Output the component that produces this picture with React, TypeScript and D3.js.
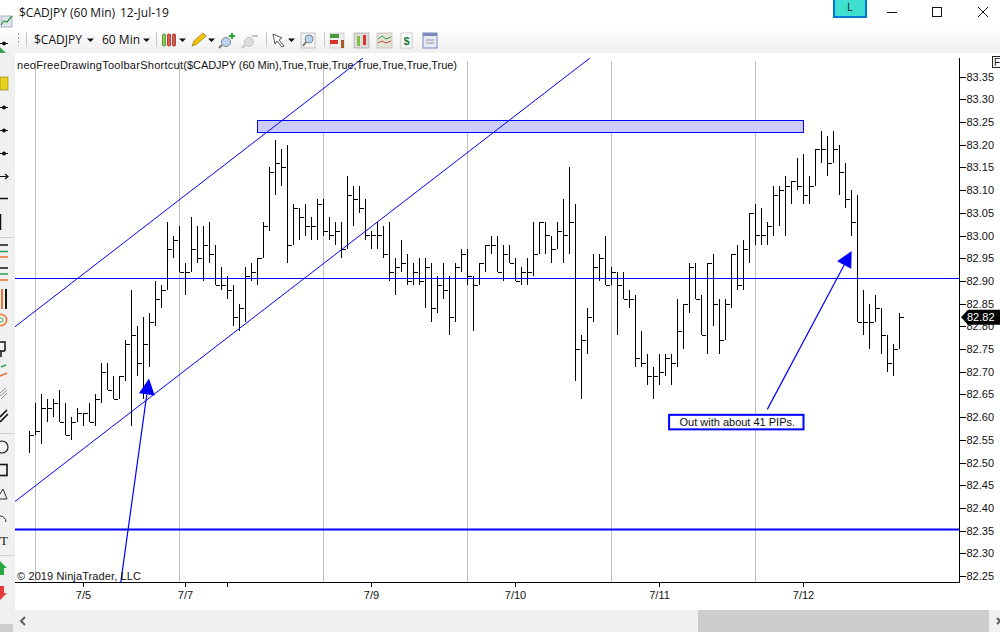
import React, { useEffect, useRef } from 'react';
import * as d3 from 'd3';

// bars, hourly $CADJPY
const highs = [
  82.57, 82.63, 82.65, 82.64, 82.64, 82.66, 82.63, 82.60, 82.62, 82.61, 82.63, 82.65, 82.72, 82.72, 82.69, 82.69, 82.77, 82.88, 82.80, 82.82,
  82.83, 82.90, 82.89, 83.03, 83.00, 83.02, 82.94, 83.04, 83.02, 83.02, 83.03, 82.98, 82.93, 82.91, 82.89, 82.85, 82.93, 82.94, 82.95, 83.03,
  83.15, 83.21, 83.19, 83.20, 83.07, 83.06, 83.07, 83.04, 83.08, 83.08, 83.04, 83.03, 83.03, 83.13, 83.11, 83.11, 83.08, 83.01, 83.03, 83.02,
  83.03, 82.95, 82.99, 82.96, 82.94, 82.95, 82.95, 82.94, 82.91, 82.94, 82.91, 82.94, 82.97, 82.97, 82.91, 82.94, 82.98, 83.00, 83.00, 82.98,
  82.98, 82.95, 82.93, 82.95, 83.03, 83.03, 83.03, 83.00, 83.03, 83.08, 83.15, 83.07, 82.78, 82.84, 82.96, 82.96, 83.00, 82.93, 82.92, 82.92,
  82.88, 82.87, 82.79, 82.74, 82.71, 82.74, 82.74, 82.74, 82.86, 82.85, 82.94, 82.94, 82.87, 82.94, 82.96, 82.86, 82.86, 82.96, 82.98, 82.99,
  83.05, 83.07, 83.06, 83.03, 83.11, 83.11, 83.13, 83.12, 83.17, 83.18, 83.13, 83.19, 83.23, 83.22, 83.23, 83.20, 83.16, 83.10, 83.09, 82.88,
  82.85, 82.87, 82.84, 82.78, 82.76, 82.83,
];
const lows = [
  82.52, 82.56, 82.54, 82.59, 82.60, 82.59, 82.56, 82.55, 82.59, 82.58, 82.59, 82.58, 82.63, 82.66, 82.64, 82.64, 82.68, 82.58, 82.69, 82.64,
  82.71, 82.80, 82.84, 82.88, 82.95, 82.92, 82.87, 82.92, 82.94, 82.90, 82.94, 82.89, 82.88, 82.86, 82.80, 82.79, 82.81, 82.90, 82.89, 82.95,
  83.01, 83.09, 83.11, 82.94, 82.98, 82.99, 83.00, 82.99, 82.99, 83.00, 82.99, 82.98, 82.95, 82.97, 83.02, 83.05, 82.99, 82.97, 82.97, 82.95,
  82.90, 82.87, 82.92, 82.89, 82.89, 82.89, 82.84, 82.81, 82.83, 82.86, 82.78, 82.81, 82.92, 82.89, 82.79, 82.89, 82.92, 82.96, 82.92, 82.90,
  82.94, 82.90, 82.89, 82.89, 82.91, 82.96, 82.96, 82.94, 82.97, 82.94, 82.96, 82.68, 82.64, 82.74, 82.81, 82.90, 82.89, 82.89, 82.78, 82.86,
  82.84, 82.71, 82.71, 82.67, 82.64, 82.67, 82.69, 82.67, 82.71, 82.75, 82.83, 82.86, 82.78, 82.74, 82.80, 82.74, 82.77, 82.84, 82.88, 82.88,
  82.94, 82.98, 82.98, 82.98, 83.00, 83.02, 83.00, 83.07, 83.10, 83.07, 83.07, 83.11, 83.16, 83.13, 83.16, 83.09, 83.06, 83.00, 82.81, 82.78,
  82.75, 82.81, 82.74, 82.70, 82.69, 82.75,
];
const closes = [
  82.56, 82.57, 82.62, 82.62, 82.63, 82.59, 82.56, 82.59, 82.61, 82.61, 82.59, 82.64, 82.70, 82.66, 82.64, 82.69, 82.76, 82.78, 82.72, 82.76,
  82.81, 82.86, 82.88, 82.97, 82.99, 82.92, 82.92, 82.97, 82.95, 82.98, 82.96, 82.89, 82.89, 82.88, 82.82, 82.84, 82.91, 82.92, 82.95, 83.02,
  83.14, 83.16, 83.15, 82.98, 83.06, 83.04, 83.02, 83.02, 83.07, 83.01, 83.00, 83.01, 82.97, 83.09, 83.08, 83.06, 83.00, 83.00, 83.00, 82.96,
  82.92, 82.93, 82.94, 82.90, 82.92, 82.90, 82.93, 82.84, 82.89, 82.88, 82.82, 82.93, 82.96, 82.91, 82.89, 82.94, 82.98, 82.98, 82.92, 82.96,
  82.94, 82.90, 82.92, 82.92, 82.96, 83.03, 83.00, 82.97, 83.01, 83.00, 83.03, 82.75, 82.77, 82.82, 82.93, 82.95, 82.89, 82.92, 82.89, 82.86,
  82.86, 82.73, 82.72, 82.69, 82.69, 82.70, 82.73, 82.72, 82.79, 82.85, 82.93, 82.86, 82.78, 82.94, 82.85, 82.77, 82.85, 82.96, 82.89, 82.97,
  83.05, 83.00, 83.00, 83.02, 83.09, 83.10, 83.11, 83.12, 83.11, 83.09, 83.11, 83.19, 83.19, 83.16, 83.19, 83.14, 83.08, 83.03, 82.81, 82.81,
  82.81, 82.84, 82.78, 82.72, 82.75, 82.82,
];

const priceTicks = [82.25, 82.30, 82.35, 82.40, 82.45, 82.50, 82.55, 82.60, 82.65, 82.70, 82.75, 82.80, 82.85, 82.90, 82.95, 83.00, 83.05, 83.10, 83.15, 83.20, 83.25, 83.30, 83.35];
const dateTickBars = [9, 26, 33, 57, 81, 105, 129];
const dateTickLabels = ['7/5', '7/7', '', '7/9', '7/10', '7/11', '7/12'];
const gridBars = [1, 25, 49, 73, 97, 121];

// drawing objects, as [bar index, price]
const channelLines = [
  [[-2.42, 82.414], [93.42, 83.391]],
  [[-2.42, 82.799], [55.58, 83.391]],
];
const levelLines = [{ price: 82.906, width: 1 }, { price: 82.353, width: 2 }];
const zoneBars = [38, 129];
const zonePrices = [83.254, 83.227];
const arrows = [
  [[15.2, 82.235], [19.92, 82.685]],
  [[122.97, 82.617], [137.03, 82.966]],
];
const noteBars = [106.6, 129];
const notePrices = [82.605, 82.573];
const noteText = 'Out with about 41 PIPs.';
const lastPrice = 82.82;

const BLUE = '#0000ff';
const SANS = '"Liberation Sans", Arial, sans-serif';
const UI = '"Open Sans", "Noto Sans", sans-serif';

const Caret: React.FC<{ x: number }> = ({ x }) => (
  <path d={`M${x} 38.5h7l-3.5 3.5z`} fill="#111" />
);

const Toolbar: React.FC = () => (
  <g>
    <defs>
      <linearGradient id="tb" x1="0" y1="0" x2="0" y2="1">
        <stop offset="0" stopColor="#ffffff" />
        <stop offset="1" stopColor="#efefef" />
      </linearGradient>
    </defs>
    <rect x={0} y={28} width={1000} height={25} fill="url(#tb)" />

    {/* window title */}
    <rect x={1} y={16} width={11} height={11} fill="#dfe6ee" stroke="#8a98a8" strokeWidth={0.7} />
    <path d="M1 25l3-4 3 1 5-6" fill="none" stroke="#2a9a3a" strokeWidth={1.2} />
    <text x={19} y={17} fontFamily={UI} fontSize={12} fill="#111">$CADJPY (60 Min)</text>
    <text x={120} y={17} fontFamily={UI} fontSize={12} fill="#111">12-Jul-19</text>
    <rect x={834} y={-1} width={32} height={18} fill="#40e0d0" stroke="#0078d7" strokeWidth={2} />
    <text x={850} y={11} fontFamily={SANS} fontSize={10} textAnchor="middle" fill="#222">L</text>
    <path d="M887 12.5h10" stroke="#111" />
    <rect x={932.5} y={7.5} width={9} height={9} fill="none" stroke="#111" />
    <path d="M978 7l10 10M988 7l-10 10" stroke="#111" />

    {/* toolbar row */}
    <path d="M18.5 33v13" stroke="#aaa" strokeDasharray="2 2" />
    <path d="M26.5 32v15M156.5 32v15M266.5 32v15M324.5 32v15" stroke="#c8c8c8" />
    <text x={34} y={44} fontFamily={UI} fontSize={12} fill="#111">$CADJPY</text>
    <Caret x={87} />
    <text x={102} y={44} fontFamily={UI} fontSize={12} fill="#111">60 Min</text>
    <Caret x={143} />
    <rect x={162.5} y={34} width={3} height={12} rx={1} fill="#8ccf3f" stroke="#2e7d1e" strokeWidth={0.7} />
    <rect x={167.5} y={34} width={3} height={12} rx={1} fill="#e8584a" stroke="#8a1c10" strokeWidth={0.7} />
    <rect x={172.5} y={34} width={3} height={12} rx={1} fill="#e8584a" stroke="#8a1c10" strokeWidth={0.7} />
    <Caret x={179} />
    <path d="M192 46l2-5 9-8 3 3-9 8z" fill="#f5c400" stroke="#8a6d00" strokeWidth={0.7} />
    <Caret x={208} />
    <circle cx={226} cy={42} r={4.5} fill="#b8d4ee" stroke="#808890" />
    <path d="M222 45l-3 3" stroke="#777" strokeWidth={2} />
    <path d="M232 33v6M229 36h6" stroke="#22aa33" strokeWidth={2} />
    <circle cx={249} cy={42} r={4.5} fill="#ddd" stroke="#c4c4c4" />
    <path d="M245 45l-3 3" stroke="#c4c4c4" strokeWidth={2} />
    <path d="M252 36h6" stroke="#c4c4c4" strokeWidth={2} />
    <path d="M273 34l9 4-3 2 5 6-2 1-5-6-2 3z" fill="#fff" stroke="#333" strokeWidth={0.8} />
    <Caret x={288} />
    <rect x={301} y={33} width={14} height={15} fill="#f4f4f4" stroke="#b0b0b0" strokeWidth={0.7} />
    <circle cx={309} cy={39} r={4} fill="#b8d4ee" stroke="#808890" />
    <path d="M306 42l-3 4" stroke="#777" strokeWidth={2} />
    <rect x={330} y={33} width={14} height={15} fill="#eee" stroke="#bbb" strokeWidth={0.6} />
    <rect x={330} y={34} width={9} height={4} fill="#4a9a3c" />
    <rect x={330} y={40} width={8} height={4} fill="#d8352a" />
    <rect x={341} y={40} width={3} height={8} fill="#a35a20" />
    <rect x={354} y={33} width={15} height={15} fill="#ddd" stroke="#999" strokeWidth={0.6} />
    <rect x={357} y={36} width={3} height={10} fill="#7fc241" />
    <rect x={363} y={35} width={3} height={10} fill="#d8352a" />
    <rect x={377} y={33} width={15} height={15} fill="#e4e4d8" stroke="#aaa" strokeWidth={0.6} />
    <path d="M378 39l4-3 4 3 5-2" fill="none" stroke="#3a9a3c" />
    <path d="M378 43l4-2 4 2 5-2" fill="none" stroke="#c04a3a" />
    <rect x={401} y={33} width={11} height={15} fill="#fff" stroke="#aaa" strokeWidth={0.6} />
    <text x={406.5} y={45} fontFamily={SANS} fontWeight="bold" fontSize={11} textAnchor="middle" fill="#1c7a3a">$</text>
    <rect x={423} y={33} width={14} height={15} fill="#e4eaf6" stroke="#7c88b8" />
    <rect x={423} y={33} width={14} height={3} fill="#7c88b8" />
    <path d="M426 40h8M426 43h8" stroke="#9a9a9a" />
  </g>
);

const LeftBar: React.FC = () => (
  <g>
    <rect x={0} y={53} width={15} height={557} fill="#f0f0f0" />
    <path d="M0 43.5h8" stroke="#111" />
    <circle cx={4} cy={43.5} r={2} fill="#111" />
    <path d="M0 47l6 6h-6z" fill="#3aa655" />
    <rect x={0} y={77} width={8} height={13} fill="#e6d21e" stroke="#8a7c10" strokeWidth={0.6} />
    {[107, 130, 153].map(y => (
      <g key={y}>
        <path d={`M0 ${y}.5h8`} stroke="#111" />
        <circle cx={4} cy={y + 0.5} r={2} fill="#111" />
      </g>
    ))}
    <path d="M0 176.5h8M5 174l3 2.5-3 2.5" stroke="#111" fill="none" strokeWidth={1.2} />
    <path d="M0 198.5h8" stroke="#111" strokeWidth={1.5} />
    <path d="M0.5 214v16" stroke="#111" strokeWidth={1.5} />
    <path d="M0 237.5h14M0 433.5h14M0 555.5h14" stroke="#cfcfcf" />
    <path d="M0 245h8" stroke="#111" strokeWidth={1.5} />
    <path d="M0 251.5h8" stroke="#2aa05a" strokeWidth={1.5} />
    <path d="M0 257h8" stroke="#ee7030" strokeWidth={1.5} />
    <path d="M0 268h8" stroke="#111" strokeWidth={1.5} />
    <path d="M0 274h8" stroke="#2aa05a" strokeWidth={1.5} />
    <path d="M0 280h8" stroke="#ee7030" strokeWidth={1.5} />
    <path d="M2 289v20" stroke="#ee7030" strokeWidth={2} />
    <path d="M6 289v20" stroke="#111" strokeWidth={2} />
    <circle cx={1} cy={320} r={5.5} fill="#fff" stroke="#e88a50" strokeWidth={2} />
    <circle cx={1} cy={320} r={2} fill="none" stroke="#3a9a5a" />
    <path d="M0 342h4M5 341v10M0 351h5M1 351v6" stroke="#111" strokeWidth={1.5} fill="none" />
    <path d="M1 367l5-2" stroke="#2aa05a" strokeWidth={1.5} />
    <path d="M0 376l7-3" stroke="#ee7030" strokeWidth={1.5} />
    <path d="M0 396l7-6M0 393l6-5M1 399l6-6" stroke="#999" strokeWidth={1} />
    <path d="M0 417l7-7M0 422l8-8" stroke="#111" strokeWidth={1.6} />
    <circle cx={2} cy={447} r={6} fill="none" stroke="#222" strokeWidth={1.2} />
    <rect x={-3} y={464.5} width={10} height={11} fill="none" stroke="#111" strokeWidth={1.6} />
    <path d="M3 489l4 10h-10z" fill="none" stroke="#333" />
    <path d="M0 516a6 6 0 0 1 6 6" fill="none" stroke="#333" />
    <text x={0} y={545} fontFamily="'Liberation Serif', serif" fontSize={13} fill="#222">T</text>
    <path d="M0 561l7 7h-3v7h-4z" fill="#28a745" />
    <path d="M0 600l7-7h-3v-7h-4z" fill="#e33b3b" />
  </g>
);

const Bottom: React.FC = () => (
  <g>
    <rect x={0} y={610} width={1000} height={22} fill="#f0f0f0" />
    <rect x={698} y={610} width={291} height={22} fill="#cdcdcd" />
    <path d="M25 617l-4 4 4 4" fill="none" stroke="#606060" strokeWidth={2} />
    <path d="M997 618l3 3-3 3" fill="none" stroke="#606060" strokeWidth={2} />
    <rect x={0} y={624} width={13} height={8} fill="#cfcfcf" />
  </g>
);

export default function App() {
  const ref = useRef<SVGGElement | null>(null);

  useEffect(() => {
    const chart = d3.select(ref.current);
    chart.selectAll('*').remove();

    const x = d3.scaleLinear().domain([0, 145]).range([29.5, 899.5]);
    const y = d3.scaleLinear().domain([82.25, 83.35]).range([576, 76.6]);
    const px = (p: number[]) => [x(p[0]), y(p[1])];
    const bars = d3.range(highs.length);

    chart.append('clipPath').attr('id', 'plot')
      .append('rect').attr('x', 15).attr('y', 58).attr('width', 944).attr('height', 524.5);

    //gridlines
    chart.append('g').selectAll('line').data(gridBars).enter().append('line')
      .attr('x1', d => x(d)).attr('x2', d => x(d))
      .attr('y1', 61).attr('y2', 582)
      .attr('stroke', '#bdbdbd').attr('shape-rendering', 'crispEdges');

    //x and y axes
    const xAxis = chart.append('g').attr('transform', 'translate(0, 582.5)')
      .call(d3.axisBottom(x).offset(0).tickValues(dateTickBars).tickSize(4).tickPadding(5)
        .tickFormat((_, i) => dateTickLabels[i]));
    const yAxis = chart.append('g').attr('transform', 'translate(959.5, 0)')
      .call(d3.axisRight(y).tickValues(priceTicks).tickSize(6).tickPadding(1)
        .tickFormat(d3.format('.2f') as any));
    [xAxis, yAxis].forEach(a => {
      a.selectAll('text').attr('font-family', SANS).attr('font-size', 11).attr('fill', '#111');
      a.selectAll('line').attr('stroke', '#000').attr('shape-rendering', 'crispEdges');
      a.select('.domain').remove();
    });
    chart.append('path').attr('d', 'M15 582.5H959.5V58').attr('fill', 'none').attr('stroke', '#000')
      .attr('shape-rendering', 'crispEdges');

    //price bars
    const bar = chart.append('g').attr('stroke', '#000').attr('shape-rendering', 'crispEdges');
    bar.selectAll('line.range').data(bars).enter().append('line')
      .attr('class', 'range')
      .attr('x1', i => x(i)).attr('x2', i => x(i))
      .attr('y1', i => y(highs[i])).attr('y2', i => y(lows[i]));
    bar.selectAll('line.close').data(bars).enter().append('line')
      .attr('class', 'close')
      .attr('x1', i => x(i)).attr('x2', i => x(i) + 4)
      .attr('y1', i => Math.round(y(closes[i])) + 0.5).attr('y2', i => Math.round(y(closes[i])) + 0.5);

    //drawing objects
    const draw = chart.append('g').attr('clip-path', 'url(#plot)');
    draw.append('rect')
      .attr('x', x(zoneBars[0])).attr('width', x(zoneBars[1]) - x(zoneBars[0]))
      .attr('y', Math.round(y(zonePrices[0])) + 0.5).attr('height', Math.round(y(zonePrices[1]) - y(zonePrices[0])))
      .attr('fill', '#ccccff').attr('stroke', BLUE).attr('shape-rendering', 'crispEdges');
    const line = d3.line();
    channelLines.forEach(l => {
      draw.append('path').attr('d', line(l.map(px) as any)).attr('stroke', BLUE).attr('fill', 'none');
    });
    levelLines.forEach(l => {
      draw.append('line').attr('x1', 15).attr('x2', 959)
        .attr('y1', Math.floor(y(l.price)) + 0.5).attr('y2', Math.floor(y(l.price)) + 0.5)
        .attr('stroke', BLUE).attr('stroke-width', l.width);
    });
    arrows.forEach(a => {
      const [tail, tip] = a.map(px);
      const len = Math.hypot(tip[0] - tail[0], tip[1] - tail[1]);
      const ux = (tip[0] - tail[0]) / len;
      const uy = (tip[1] - tail[1]) / len;
      const bx = tip[0] - ux * 16;
      const by = tip[1] - uy * 16;
      draw.append('line').attr('x1', tail[0]).attr('y1', tail[1]).attr('x2', bx).attr('y2', by)
        .attr('stroke', BLUE).attr('stroke-width', 1.2);
      draw.append('polygon')
        .attr('points', [tip, [bx - uy * 8, by + ux * 8], [bx + uy * 8, by - ux * 8]].join(' '))
        .attr('fill', BLUE);
    });

    //note box
    const note = chart.append('g');
    note.append('rect')
      .attr('x', x(noteBars[0])).attr('width', x(noteBars[1]) - x(noteBars[0]))
      .attr('y', y(notePrices[0])).attr('height', y(notePrices[1]) - y(notePrices[0]))
      .attr('fill', '#fff').attr('stroke', BLUE).attr('stroke-width', 2);
    note.append('text')
      .attr('x', (x(noteBars[0]) + x(noteBars[1])) / 2 + 1).attr('y', (y(notePrices[0]) + y(notePrices[1])) / 2 + 4)
      .attr('text-anchor', 'middle').attr('font-family', SANS).attr('font-size', 11).attr('fill', '#111')
      .text(noteText);

    //last price flag
    const ly = y(lastPrice);
    chart.append('path')
      .attr('d', `M961 ${ly}l7 -7.5H1000V${ly + 7.5}H968z`).attr('fill', '#000');
    chart.append('text').attr('x', 967).attr('y', ly + 4)
      .attr('font-family', SANS).attr('font-size', 11).attr('fill', '#fff').text(lastPrice.toFixed(2));
  }, []);

  return (
    <svg width={1000} height={632} style={{ position: 'absolute', left: 0, top: 0, display: 'block', background: '#fff' }}>
      <Toolbar />
      <Bottom />
      <g ref={ref} />
      <LeftBar />
      <text x={17} y={69} fontFamily={SANS} fontSize={11} fill="#111" textLength={170} lengthAdjust="spacing">
        neoFreeDrawingToolbarShortcut(
      </text>
      <text x={187} y={69} fontFamily={SANS} fontSize={11} fill="#111" textLength={270} lengthAdjust="spacing">
        $CADJPY (60 Min),True,True,True,True,True,True,True)
      </text>
      <text x={17} y={580} fontFamily={SANS} fontSize={11} fill="#111" textLength={124} lengthAdjust="spacing">
        © 2019 NinjaTrader, LLC
      </text>
      <rect x={992.5} y={56.5} width={8} height={11} fill="#fff" stroke="#222" />
      <text x={994} y={66} fontFamily={SANS} fontSize={10} fill="#111">F</text>
    </svg>
  );
}
